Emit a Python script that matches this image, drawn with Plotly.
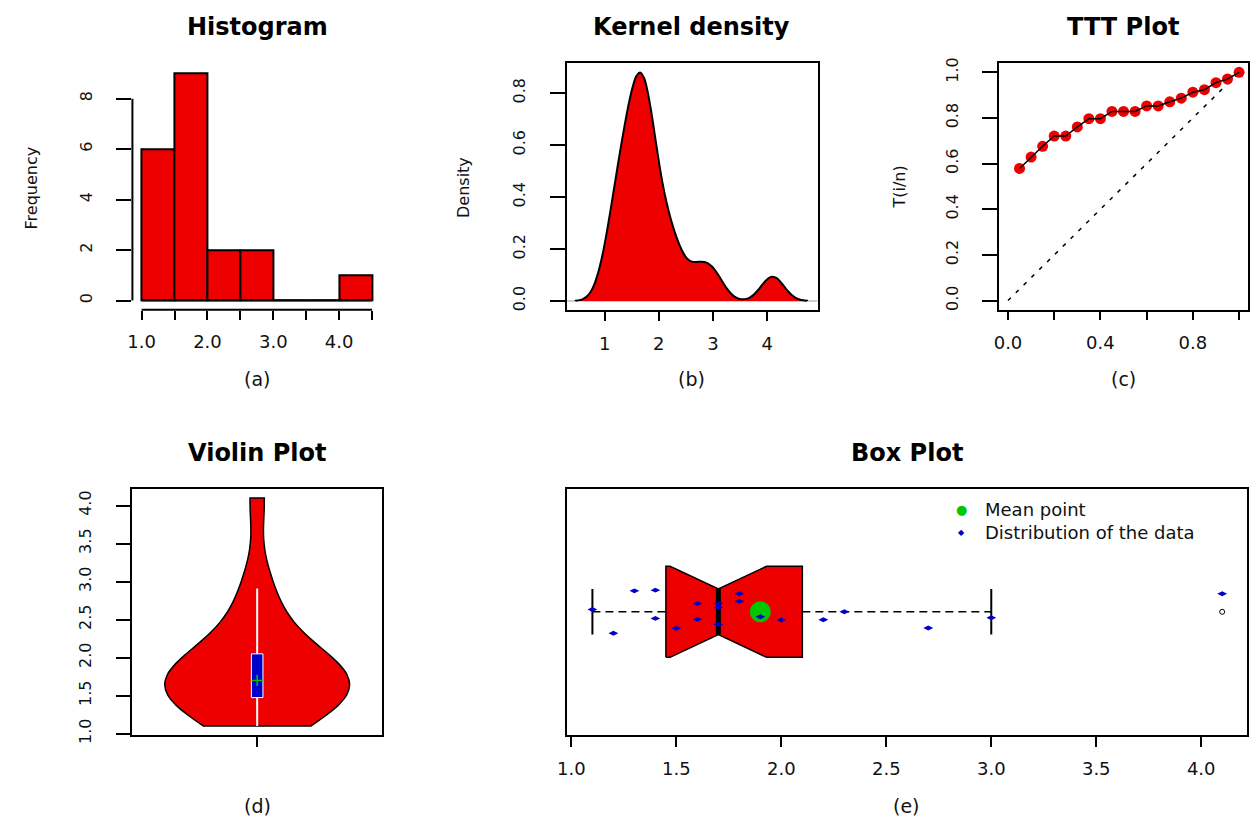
import plotly.graph_objects as go

FIG_W, FIG_H = 1253, 827
FONT = "DejaVu Sans"
RED = "#EE0000"
INK = "#111111"
GREEN = "#00C800"
BLUE = "#0000CC"

# ---- data -----------------------------------------------------------------
obs = [1.1, 1.2, 1.3, 1.4, 1.4, 1.5, 1.6, 1.6, 1.7, 1.7,
       1.7, 1.8, 1.8, 1.9, 2.0, 2.2, 2.3, 2.7, 3.0, 4.1]

# histogram (right-closed bins of width 0.5)
hist_left = [1.0, 1.5, 2.0, 2.5, 3.0, 3.5, 4.0]
hist_counts = [6, 9, 2, 2, 0, 0, 1]
hist_xticks = [1.0, 1.5, 2.0, 2.5, 3.0, 3.5, 4.0, 4.5]
hist_xtext = ["1.0", "", "2.0", "", "3.0", "", "4.0", ""]
hist_yticks = [0, 2, 4, 6, 8]

# kernel density estimate settings
kde_bw = 0.212
kde_span = [0.464, 4.736]
kde_peak = 0.88

# total time on test
ttt_u = [0.05, 0.10, 0.15, 0.20, 0.25, 0.30, 0.35, 0.40, 0.45, 0.50,
         0.55, 0.60, 0.65, 0.70, 0.75, 0.80, 0.85, 0.90, 0.95, 1.00]
ttt_T = [0.579, 0.629, 0.676, 0.721, 0.721, 0.761, 0.797, 0.797, 0.829, 0.829,
         0.829, 0.853, 0.853, 0.871, 0.887, 0.913, 0.924, 0.955, 0.971, 1.000]

# violin
vio_bw = 0.41
vio_q1, vio_med, vio_q3 = 1.475, 1.7, 2.05
vio_lo, vio_hi = 1.1, 2.91

# notched box plot
box_q1, box_med, box_q3 = 1.45, 1.7, 2.1
box_notch = [1.47, 1.93]
box_whisk = [1.1, 3.0]
box_mean = 1.9
box_out = [4.1]
jitter = [0.010, -0.094, 0.092, 0.095, -0.029, -0.072, 0.036, -0.033, 0.036, 0.019,
          -0.055, 0.079, 0.046, -0.022, -0.036, -0.035, 0.000, -0.071, -0.026, 0.079]
legend_items = ["Mean point", "Distribution of the data"]


def dom_x(left, right):
    return [left / FIG_W, min(1.0, right / FIG_W)]


def dom_y(top, bottom):
    return [1 - bottom / FIG_H, 1 - top / FIG_H]


fig = go.Figure()

# (a) histogram
fig.add_trace(go.Scatter(x=[hist_xticks[0], hist_xticks[-1]], y=[0, 0], mode="lines",
                         line=dict(color="black", width=2), xaxis="x", yaxis="y",
                         showlegend=False, hoverinfo="skip"))
fig.add_trace(go.Bar(x=hist_left, y=hist_counts, width=0.5, offset=0,
                     marker=dict(color=RED, line=dict(color="black", width=2)),
                     xaxis="x", yaxis="y", showlegend=False))

# (b) kernel density (one-sided KDE)
fig.add_trace(go.Violin(x=obs, y0=0, orientation="h", side="positive",
                        bandwidth=kde_bw, spanmode="manual", span=kde_span,
                        scalemode="width", width=2 * kde_peak,
                        fillcolor=RED, line=dict(color="black", width=2),
                        points=False, box_visible=False, meanline_visible=False,
                        xaxis="x2", yaxis="y2", showlegend=False, hoverinfo="skip"))

# (c) TTT plot
fig.add_trace(go.Scatter(x=[0, 1], y=[0, 1], mode="lines",
                         line=dict(color="black", width=1.5, dash="4px,7px"),
                         xaxis="x3", yaxis="y3", showlegend=False, hoverinfo="skip"))
fig.add_trace(go.Scatter(x=ttt_u, y=ttt_T, mode="markers",
                         marker=dict(color=RED, size=11),
                         xaxis="x3", yaxis="y3", showlegend=False))
fig.add_trace(go.Scatter(x=ttt_u, y=ttt_T, mode="lines",
                         line=dict(color="black", width=1.5),
                         xaxis="x3", yaxis="y3", showlegend=False))

# (d) violin plot
fig.add_trace(go.Violin(y=obs, x0=1, side="both", bandwidth=vio_bw, spanmode="hard",
                        scalemode="width", width=0.8,
                        fillcolor=RED, line=dict(color="black", width=1.5),
                        points=False, box_visible=False, meanline_visible=False,
                        xaxis="x4", yaxis="y4", showlegend=False, hoverinfo="skip"))
fig.add_trace(go.Scatter(x=[1, 1], y=[vio_lo, vio_hi], mode="lines",
                         line=dict(color="white", width=2),
                         xaxis="x4", yaxis="y4", showlegend=False))
bw_half = 0.025
fig.add_trace(go.Scatter(x=[1 - bw_half, 1 + bw_half, 1 + bw_half, 1 - bw_half, 1 - bw_half],
                         y=[vio_q1, vio_q1, vio_q3, vio_q3, vio_q1],
                         mode="lines", fill="toself", fillcolor="#0000CD",
                         line=dict(color="white", width=1),
                         xaxis="x4", yaxis="y4", showlegend=False))
fig.add_trace(go.Scatter(x=[1], y=[vio_med], mode="markers",
                         marker=dict(symbol="cross-thin", size=8, line=dict(color="#00C000", width=1.5)),
                         xaxis="x4", yaxis="y4", showlegend=False))

# (e) notched box plot
w = 0.2
nx = [box_q1, box_q1, box_notch[0], box_med, box_notch[1], box_q3, box_q3,
      box_notch[1], box_med, box_notch[0], box_q1]
ny = [1 - w, 1 + w, 1 + w, 1 + w / 2, 1 + w, 1 + w, 1 - w, 1 - w, 1 - w / 2, 1 - w, 1 - w]
fig.add_trace(go.Scatter(x=nx, y=ny, mode="lines", fill="toself", fillcolor=RED,
                         line=dict(color="black", width=1.5),
                         xaxis="x5", yaxis="y5", showlegend=False, hoverinfo="skip"))
fig.add_trace(go.Scatter(x=[box_whisk[0], box_q1, None, box_q3, box_whisk[1]],
                         y=[1, 1, None, 1, 1], mode="lines",
                         line=dict(color="black", width=1.5, dash="8px,5px"),
                         xaxis="x5", yaxis="y5", showlegend=False, hoverinfo="skip"))
fig.add_trace(go.Scatter(x=[box_whisk[0], box_whisk[0], None, box_whisk[1], box_whisk[1]],
                         y=[1 - w / 2, 1 + w / 2, None, 1 - w / 2, 1 + w / 2], mode="lines",
                         line=dict(color="black", width=2),
                         xaxis="x5", yaxis="y5", showlegend=False, hoverinfo="skip"))
fig.add_trace(go.Scatter(x=[box_med, box_med], y=[1 - w / 2, 1 + w / 2], mode="lines",
                         line=dict(color="black", width=5),
                         xaxis="x5", yaxis="y5", showlegend=False, hoverinfo="skip"))
fig.add_trace(go.Scatter(x=[box_mean], y=[1], mode="markers", name=legend_items[0],
                         marker=dict(color=GREEN, size=21),
                         xaxis="x5", yaxis="y5", showlegend=False))
fig.add_trace(go.Scatter(x=obs, y=[1 + j for j in jitter], mode="markers", name=legend_items[1],
                         marker=dict(color=BLUE, size=7, symbol="diamond-wide"),
                         xaxis="x5", yaxis="y5", showlegend=False))
fig.add_trace(go.Scatter(x=box_out, y=[1] * len(box_out), mode="markers",
                         marker=dict(symbol="circle-open", size=5, color="black",
                                     line=dict(width=1)),
                         xaxis="x5", yaxis="y5", showlegend=False))

# ---- axes -----------------------------------------------------------------
tick_x = dict(ticks="outside", ticklen=9, tickwidth=1.5, tickcolor="black",
              showgrid=False, zeroline=False, tickfont=dict(family=FONT, size=18, color=INK),
              ticklabelstandoff=7)
tick_y = dict(ticks="outside", ticklen=15, tickwidth=1.5, tickcolor="black",
              showgrid=False, zeroline=False, tickangle=-90,
              tickfont=dict(family=FONT, size=16, color=INK), ticklabelstandoff=18)
frame = dict(showline=True, mirror=True, linecolor="black", linewidth=1.5)

layout = dict(
    width=FIG_W, height=FIG_H, margin=dict(l=0, r=0, t=0, b=0),
    paper_bgcolor="white", plot_bgcolor="white", bargap=0, showlegend=False,
    font=dict(family=FONT, color=INK),
    xaxis=dict(domain=dom_x(123.4, 374.3), range=[0.86, 4.64], anchor="y",
               tickvals=hist_xticks, ticktext=hist_xtext, showline=False, **tick_x),
    yaxis=dict(domain=dom_y(59.4, 309.3), range=[-0.36, 9.36], anchor="x",
               tickvals=hist_yticks, showline=False, **tick_y),
    xaxis2=dict(domain=dom_x(561, 814), range=[0.295, 4.93], anchor="y2",
                tickvals=[1, 2, 3, 4], **frame, **tick_x),
    yaxis2=dict(domain=dom_y(58.3, 309.8), range=[-0.0352, 0.9152], anchor="x2", type="linear",
                tickvals=[0, 0.2, 0.4, 0.6, 0.8], ticktext=["0.0", "0.2", "0.4", "0.6", "0.8"],
                **frame, **tick_y),
    xaxis3=dict(domain=dom_x(996.7, 1248.3), range=[-0.04, 1.04], anchor="y3",
                tickvals=[0, 0.2, 0.4, 0.6, 0.8, 1.0], ticktext=["0.0", "", "0.4", "", "0.8", ""],
                **frame, **tick_x),
    yaxis3=dict(domain=dom_y(58.3, 309.3), range=[-0.04, 1.04], anchor="x3",
                tickvals=[0, 0.2, 0.4, 0.6, 0.8, 1.0],
                ticktext=["0.0", "0.2", "0.4", "0.6", "0.8", "1.0"], **frame, **tick_y),
    xaxis4=dict(domain=dom_x(123.3, 375), range=[0.46, 1.54], anchor="y4", type="linear",
                tickvals=[1], ticktext=[""], **frame, **dict(tick_x, ticklen=10)),
    yaxis4=dict(domain=dom_y(491.7, 742.7), range=[0.98, 4.22], anchor="x4",
                tickvals=[1.0, 1.5, 2.0, 2.5, 3.0, 3.5, 4.0],
                ticktext=["1.0", "1.5", "2.0", "2.5", "3.0", "3.5", "4.0"], **frame, **tick_y),
    xaxis5=dict(domain=dom_x(561.7, 1246.7), range=[0.98, 4.217], anchor="y5",
                tickvals=[1.0, 1.5, 2.0, 2.5, 3.0, 3.5, 4.0],
                ticktext=["1.0", "1.5", "2.0", "2.5", "3.0", "3.5", "4.0"],
                **frame, **dict(tick_x, ticklen=10)),
    yaxis5=dict(domain=dom_y(491.7, 742.3), range=[0.46, 1.54], anchor="x5",
                showticklabels=False, ticks="", showgrid=False, zeroline=False, **frame),
)
fig.update_layout(**layout)

# axis lines of the histogram and the zero line of the density panel
fig.add_shape(type="line", xref="x", yref="y domain", x0=hist_xticks[0], x1=hist_xticks[-1],
              y0=0, y1=0, line=dict(color="black", width=2))
fig.add_shape(type="line", xref="x domain", yref="y", x0=0, x1=0,
              y0=hist_yticks[0], y1=hist_yticks[-1], line=dict(color="black", width=2))
fig.add_shape(type="line", xref="x2 domain", yref="y2", x0=0, x1=1, y0=0, y1=0,
              line=dict(color="#BEBEBE", width=1.5), layer="below")


# ---- text -----------------------------------------------------------------
def label(text, cx, cy, size, bold=False, angle=0, anchor="center", color=None):
    fig.add_annotation(text=f"<b>{text}</b>" if bold else text,
                       x=cx / FIG_W, y=1 - cy / FIG_H,
                       xref="paper", yref="paper",
                       showarrow=False, textangle=angle, xanchor=anchor, yanchor="middle",
                       align="left", font=dict(family=FONT, size=size,
                                               color=color or ("black" if bold else INK)))


label("Histogram", 249, 21, 24, bold=True)
label("Kernel density", 687, 21, 24, bold=True)
label("TTT Plot", 1122, 21, 24, bold=True)
label("Violin Plot", 249, 455, 24, bold=True)
label("Box Plot", 904, 455, 24, bold=True)
label("(a)", 249, 380, 19)
label("(b)", 687, 380, 19)
label("(c)", 1122, 380, 19)
label("(d)", 249, 815, 19)
label("(e)", 904, 815, 19)
label("Frequency", 22, 185, 16, angle=-90)
label("Density", 457, 185, 16, angle=-90)
label("T(i/n)", 897, 184, 16, angle=-90)

# legend of the box plot
label("●", 959, 513, 13, color=GREEN)
label("◆", 959, 536, 8, color=BLUE)
label("<br>".join(legend_items), 981, 524.5, 18, anchor="left")

fig.write_html("out.html")
